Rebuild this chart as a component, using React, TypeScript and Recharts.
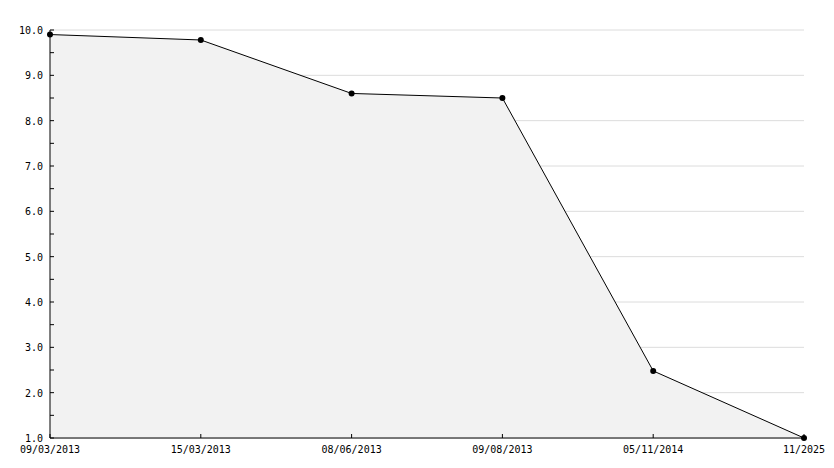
import React from 'react';
import { AreaChart, Area, XAxis, YAxis, CartesianGrid } from 'recharts';

const categories = ['09/03/2013', '15/03/2013', '08/06/2013', '09/08/2013', '05/11/2014', '11/2025'];
const values = [9.9, 9.78, 8.6, 8.5, 2.48, 1.0];
const yTicks = [1, 1.5, 2, 2.5, 3, 3.5, 4, 4.5, 5, 5.5, 6, 6.5, 7, 7.5, 8, 8.5, 9, 9.5, 10];
const yGridValues = [1, 2, 3, 4, 5, 6, 7, 8, 9, 10];

const data = categories.map((c, i) => ({ date: c, value: values[i] }));

const FONT = '"DejaVu Sans Mono", monospace';

const XTick = (props: any) => {
  const { x, y, payload } = props;
  return (
    <g>
      <line x1={x} y1={y} x2={x} y2={y - 4} stroke="#000" strokeWidth={1} />
      <text x={x} y={y + 15} textAnchor="middle" fontFamily={FONT} fontSize={10} fill="#000">
        {payload.value}
      </text>
    </g>
  );
};

const YTick = (props: any) => {
  const { x, y, payload } = props;
  const v = Number(payload.value);
  const isMajor = Math.abs(v - Math.round(v)) < 1e-9;
  return (
    <g>
      <line x1={x} y1={y} x2={x + 4} y2={y} stroke="#000" strokeWidth={1} />
      {isMajor && (
        <text x={x - 7} y={y + 4} textAnchor="end" fontFamily={FONT} fontSize={10} fill="#000">
          {v.toFixed(1)}
        </text>
      )}
    </g>
  );
};

export default function App() {
  return (
    <div style={{ position: 'absolute', left: 0, top: 0, width: 834, height: 468, background: '#fff' }}>
      <AreaChart
        width={834}
        height={468}
        data={data}
        margin={{ top: 30, right: 30, bottom: 0, left: 0 }}
      >
        <CartesianGrid
          vertical={false}
          horizontalValues={yGridValues}
          stroke="#dcdcdc"
          strokeWidth={1}
        />
        <XAxis
          dataKey="date"
          interval={0}
          height={30}
          tickSize={0}
          tickMargin={0}
          tickLine={false}
          axisLine={{ stroke: '#000', strokeWidth: 1 }}
          tick={<XTick />}
        />
        <YAxis
          type="number"
          domain={[1, 10]}
          ticks={yTicks}
          interval={0}
          width={50}
          tickSize={0}
          tickMargin={0}
          tickLine={false}
          axisLine={{ stroke: '#000', strokeWidth: 1 }}
          tick={<YTick />}
        />
        <Area
          type="linear"
          dataKey="value"
          stroke="#000"
          strokeWidth={1}
          fill="#f2f2f2"
          fillOpacity={1}
          dot={{ r: 3, fill: '#000', stroke: 'none' }}
          activeDot={false}
          isAnimationActive={false}
        />
      </AreaChart>
    </div>
  );
}
